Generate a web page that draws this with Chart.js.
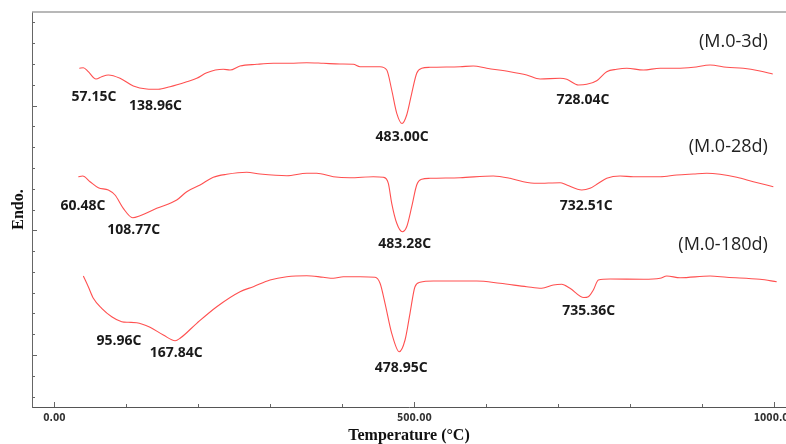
<!DOCTYPE html>
<html>
<head>
<meta charset="utf-8">
<script src="https://cdn.jsdelivr.net/npm/chart.js@4.4.1/dist/chart.umd.min.js"></script>
<style>
  html, body { margin: 0; padding: 0; background: #ffffff; }
  #wrap { width: 786px; height: 444px; }
</style>
</head>
<body>
<div id="wrap"><canvas id="c" width="786" height="444"></canvas></div>
<script>
// ---------- DATA ----------
// Temperatures (°C) and heat-flow signal (arbitrary units, stacked curves)
const T_3D = [34.7, 40.3, 47.2, 57.9, 65.8, 75, 91.3, 109.7, 128.3, 144.4, 160.7, 183.9, 197.8, 211.7, 234.7, 244, 257.9, 281.1, 304.2, 327.4, 350.6, 373.6, 396.8, 415.3, 424.6, 452.4, 461.7, 468.6, 475.6, 483, 489.4, 496.4, 503.3, 510.3, 521.8, 563.5, 581.9, 600.6, 632.9, 656.1, 674.6, 702.4, 711.7, 728, 739.4, 753.3, 767.2, 781.1, 795, 818.1, 841.3, 864.4, 887.5, 910.7, 933.9, 956.9, 980, 997.8];
const V_3D = [338.7, 339.3, 335.3, 328, 330.3, 332, 328.7, 321, 318, 317.7, 320.3, 325.3, 328.7, 334.3, 337.7, 337, 341, 342.7, 343.7, 343.7, 344.3, 343.7, 343, 342.7, 340.3, 340.3, 337, 317, 293.7, 283.5, 292, 313.7, 333.7, 338.7, 339.7, 340.3, 341, 338.7, 335.3, 332, 328, 328.7, 327.7, 322, 322.7, 326.3, 335.3, 337.7, 338.7, 337, 338.7, 338.7, 339.7, 342, 339.7, 338.7, 336, 333];

const T_28D = [33.3, 39.4, 49.6, 61.1, 75, 84.3, 95.8, 108.8, 119, 142.2, 170, 183.9, 202.4, 220.8, 239.4, 267.2, 285.7, 322.8, 350.6, 364.4, 387.5, 410.7, 443, 456.9, 463.9, 468.6, 475.6, 483.3, 489.4, 496.4, 503.3, 510.3, 521.8, 563.5, 609.7, 632.9, 651.4, 670, 702.4, 711.7, 732.5, 744, 755.6, 767.2, 785.7, 804.2, 841.3, 864.4, 887.5, 906.1, 924.6, 947.8, 970.8, 998.6];
const V_28D = [230.3, 231, 225.3, 219.3, 217, 212, 198.7, 189.3, 191.3, 198.7, 207, 215.3, 222, 229.7, 232.7, 234.7, 233, 231.3, 233.7, 233.7, 230.3, 229.3, 230.3, 229.7, 223.7, 203.7, 183.7, 175.3, 180.3, 200.3, 222, 227.7, 228.7, 229.3, 231, 228.7, 225.3, 223.7, 224.3, 222, 217, 218.7, 223.7, 228.7, 231, 230.3, 230.3, 232, 233, 233.7, 232.7, 229.7, 225.3, 220.3];

const T_180D = [40.3, 47.2, 54.2, 65.8, 79.7, 93.6, 102.8, 114.4, 132.9, 151.4, 167.8, 174.6, 197.8, 225.6, 257.9, 276.4, 299.6, 322.8, 350.6, 373.6, 387.5, 401.4, 424.6, 445.4, 452.4, 459.3, 468.6, 479, 487.1, 494, 500.9, 507.9, 526.4, 586.7, 619, 656.1, 676.9, 693.1, 704.7, 716.2, 735.4, 741.7, 748.6, 755.6, 771.8, 818.1, 841.3, 850.6, 869.1, 910.7, 933.9, 980, 1003.3];
const V_180D = [131, 120.3, 108.7, 98.7, 90.3, 85.3, 84.7, 84.3, 79.7, 72, 66.3, 68.7, 83.7, 100.3, 115.3, 120.3, 127, 130.3, 131.3, 129.7, 128.7, 130.3, 130.3, 129.7, 123.7, 103.7, 73.7, 55.3, 67, 93.7, 120.3, 124.7, 126, 126, 123.7, 120.3, 118.7, 122, 122.7, 118.7, 109.5, 110.3, 117, 127, 128, 127.7, 128.7, 131, 129.3, 131, 129.7, 127.7, 125.3];

// Peak temperatures annotated on each curve
const PEAKS_3D = [57.15, 138.96, 483.00, 728.04];
const PEAKS_28D = [60.48, 108.77, 483.28, 732.51];
const PEAKS_180D = [95.96, 167.84, 478.95, 735.36];

const SERIES_NAMES = ['(M.0-3d)', '(M.0-28d)', '(M.0-180d)'];

// Axis tick values
const X_TICKS = [0, 100, 200, 300, 400, 500, 600, 700, 800, 900, 1000];
const X_LABELED = [0, 500, 1000];
const Y_TICKS = [10.4, 31.2, 52.0, 72.8, 93.6, 114.3, 135.1, 155.9, 176.7, 197.5, 218.3, 239.1, 259.9, 280.7, 301.5, 322.3, 343.1, 363.9, 384.6];

// ---------- LAYOUT (label offsets in pixels, not data) ----------
const PEAK_OFFSETS = [
  [[-1.5, 19], [1, 16.5], [0, 13.5], [4.5, 15.5]],
  [[-15, 18.7], [1, 12.5], [2.5, 12.5], [4.5, 16]],
  [[-4.5, 19], [1, 12.5], [2, 16], [5, 14]]
];
const SERIES_LABEL_ANCHOR = [[991, 364.7], [991, 260.3], [991, 162]];

// ---------- build ----------
const SERIES = [
  { T: T_3D, V: V_3D, peaks: PEAKS_3D },
  { T: T_28D, V: V_28D, peaks: PEAKS_28D },
  { T: T_180D, V: V_180D, peaks: PEAKS_180D }
];

function valueAt(T, V, t) {
  for (let i = 0; i < T.length - 1; i++) {
    if (t >= T[i] && t <= T[i + 1]) {
      const f = (t - T[i]) / (T[i + 1] - T[i]);
      return V[i] + f * (V[i + 1] - V[i]);
    }
  }
  return V[V.length - 1];
}

const LINE_COLOR = '#ff5050';

const datasets = SERIES.map((s, k) => ({
  label: SERIES_NAMES[k],
  data: s.T.map((t, i) => ({ x: t, y: s.V[i] })),
  borderColor: LINE_COLOR,
  borderWidth: 1.1,
  pointRadius: 0,
  fill: false,
  cubicInterpolationMode: 'monotone'
}));

const axisDeco = {
  id: 'axisDeco',
  afterDraw(chart) {
    const { ctx, chartArea: a, scales: { x, y } } = chart;
    ctx.save();
    ctx.lineWidth = 1.5;
    ctx.strokeStyle = '#a0a0a0';
    ctx.beginPath(); ctx.moveTo(a.left, a.top); ctx.lineTo(a.right, a.top); ctx.stroke();
    ctx.lineWidth = 1;
    ctx.strokeStyle = '#666';
    x.ticks.forEach(t => {
      const px = Math.round(x.getPixelForValue(t.value)) + 0.5;
      const len = (t.value % 500 === 0) ? 5 : 3;
      ctx.beginPath(); ctx.moveTo(px, a.bottom); ctx.lineTo(px, a.bottom - len); ctx.stroke();
    });
    y.ticks.forEach((t, i) => {
      const py = Math.round(y.getPixelForValue(t.value)) + 0.5;
      const len = (i % 6 === 2) ? 5 : 3;
      ctx.beginPath(); ctx.moveTo(a.left, py); ctx.lineTo(a.left + len, py); ctx.stroke();
    });
    ctx.restore();
  }
};

const annot = {
  id: 'annot',
  afterDatasetsDraw(chart) {
    const { ctx, scales: { x, y } } = chart;
    ctx.save();
    ctx.textAlign = 'center';
    ctx.textBaseline = 'middle';
    ctx.fillStyle = '#1a1a1a';
    ctx.font = 'bold 14px "Open Sans", sans-serif';
    SERIES.forEach((s, k) => {
      s.peaks.forEach((p, j) => {
        const px = x.getPixelForValue(p) + PEAK_OFFSETS[k][j][0];
        const py = y.getPixelForValue(valueAt(s.T, s.V, p)) + PEAK_OFFSETS[k][j][1];
        ctx.fillText(p.toFixed(2) + 'C', px, py);
      });
    });
    ctx.textAlign = 'right';
    ctx.fillStyle = '#222';
    ctx.font = '18px "Open Sans", sans-serif';
    SERIES_NAMES.forEach((n, k) => {
      ctx.fillText(n, x.getPixelForValue(SERIES_LABEL_ANCHOR[k][0]), y.getPixelForValue(SERIES_LABEL_ANCHOR[k][1]));
    });
    ctx.restore();
  }
};

new Chart(document.getElementById('c'), {
  type: 'line',
  data: { datasets },
  options: {
    responsive: false,
    animation: false,
    events: [],
    layout: { padding: { top: 12, right: 0, bottom: 0, left: 0 } },
    plugins: { legend: { display: false }, tooltip: { enabled: false } },
    scales: {
      x: {
        type: 'linear',
        min: -31,
        max: 1016.2,
        afterBuildTicks: s => { s.ticks = X_TICKS.map(v => ({ value: v })); },
        afterFit: s => { s.height = 37; s.paddingLeft = 0; s.paddingRight = 0; },
        grid: { display: false, drawTicks: false },
        border: { display: true, color: '#555', width: 1 },
        ticks: {
          autoSkip: false,
          maxRotation: 0,
          padding: 5,
          color: '#333',
          font: { family: '"Liberation Sans Narrow", "DejaVu Sans Condensed", sans-serif', size: 10, weight: 'bold', lineHeight: 1.2 },
          callback: v => X_LABELED.includes(v) ? v.toFixed(2) : ''
        },
        title: {
          display: true,
          text: 'Temperature (°C)',
          color: '#111',
          padding: { top: 0, bottom: 0 },
          font: { family: '"Liberation Serif", "DejaVu Serif", serif', size: 16, weight: 'bold', lineHeight: 1 }
        }
      },
      y: {
        type: 'linear',
        min: 0,
        max: 395,
        afterBuildTicks: s => { s.ticks = Y_TICKS.map(v => ({ value: v })); },
        afterFit: s => { s.width = 32; s.paddingTop = 0; s.paddingBottom = 0; },
        grid: { display: false, drawTicks: false },
        border: { display: true, color: '#666', width: 1 },
        ticks: { display: false },
        title: {
          display: true,
          text: 'Endo.',
          color: '#111',
          padding: { top: 11, bottom: 0 },
          font: { family: '"Liberation Serif", "DejaVu Serif", serif', size: 16, weight: 'bold', lineHeight: 1 }
        }
      }
    }
  },
  plugins: [axisDeco, annot]
});
</script>
</body>
</html>
